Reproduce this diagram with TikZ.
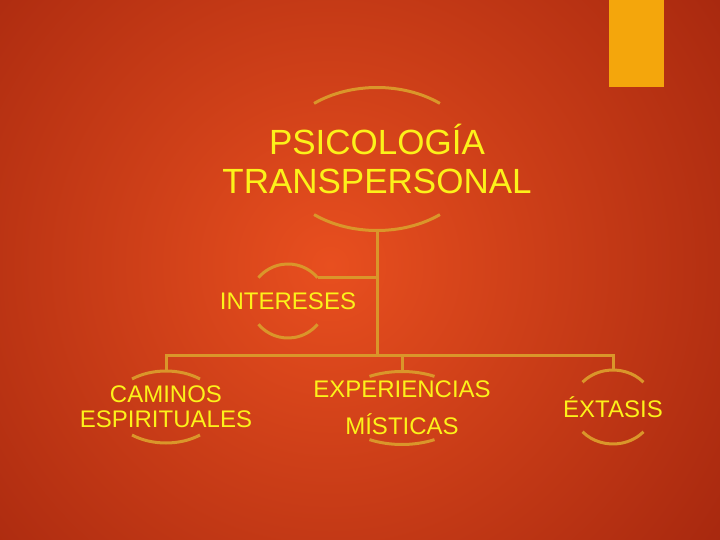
\documentclass[tikz,border=0pt]{standalone}
\usepackage{fontspec}
\setmainfont{Liberation Sans}
\usepackage{xcolor}
\usepackage{tikz}

\definecolor{bgInner}{HTML}{E84F1F}
\definecolor{bgOuter}{HTML}{861406}
\definecolor{lineGold}{HTML}{DA962A}
\definecolor{textYellow}{HTML}{FCF21A}
\definecolor{accentOrange}{HTML}{F4A60C}

\begin{document}
\begin{tikzpicture}[x=1pt,y=-1pt,
        ring/.style={draw=lineGold,line width=3pt},
        link/.style={draw=lineGold,line width=3pt},
        label/.style={text=textYellow,align=center,inner sep=0pt,font=\fontsize{24}{25}\selectfont}]

      \useasboundingbox (0,0) rectangle (720,540);
      \begin{scope}
        \clip (0,0) rectangle (720,540);
        \shade[inner color=bgInner,outer color=bgOuter] (330,265) circle[radius=730];
      \end{scope}
      \fill[accentOrange] (609,0) rectangle (664,87);

      \node[label,font=\fontsize{35}{39}\selectfont] (psi) at (377,159) {PSICOLOGÍA\\TRANSPERSONAL};
      \node[label] (int) at (288,301) {INTERESES};
      \node[label] (cam) at (166,407) {CAMINOS\\ESPIRITUALES};
      \node[label,font=\fontsize{24}{37}\selectfont] (exp) at (402,408) {EXPERIENCIAS\\MÍSTICAS};
      \node[label] (ext) at (613,407) {ÉXTASIS};

      % open rings: only top and bottom arcs are drawn
      \foreach \n/\a/\b/\t in {psi/100/71.5/51, int/38/37/39, cam/54/36/51, exp/65/36.5/60, ext/41/37/42} {
        \draw[ring] ([shift={(\t:\a pt and \b pt)}]\n.center)
              arc[start angle=\t,end angle=180-\t,x radius=\a pt,y radius=\b pt];
        \draw[ring] ([shift={({180+\t}:\a pt and \b pt)}]\n.center)
              arc[start angle=180+\t,end angle=360-\t,x radius=\a pt,y radius=\b pt];
        \coordinate (\n-top) at ([shift={(90:\a pt and \b pt)}]\n.center);
        \coordinate (\n-bot) at ([shift={(270:\a pt and \b pt)}]\n.center);
        \coordinate (\n-tr) at ([shift={(\t:\a pt and \b pt)}]\n.center);
      }

      \coordinate (hub) at (377,355);
      \draw[link] (psi-bot) -- (hub);
      \draw[link] (psi-bot |- int-tr) -- (int-tr);
      \draw[link] (hub) -| (cam-top);
      \draw[link] (hub) -| (exp-top);
      \draw[link] (hub) -| (ext-top);
    \end{tikzpicture}
\end{document}
